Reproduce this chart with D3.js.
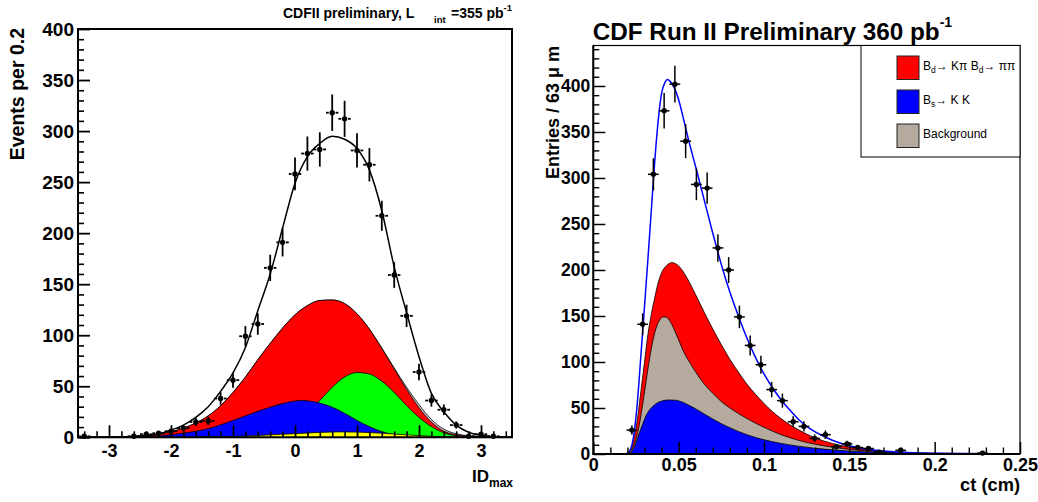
<!DOCTYPE html>
<html>
<head>
<meta charset="utf-8">
<script src="https://cdn.jsdelivr.net/npm/d3@7"></script>
<style>
  html, body { margin: 0; padding: 0; background: #fff; }
  svg { display: block; font-family: "Liberation Sans", Arial, Helvetica, sans-serif; }
</style>
</head>
<body>
<svg id="chart" width="1038" height="502"></svg>
<script>
// ---------- Left panel: ID_max distribution ----------
const idCenters = [-3.4, -2.6, -2.4, -2.2, -2.0, -1.8, -1.6, -1.4, -1.2, -1.0, -0.8, -0.6, -0.4, -0.2,
                   0.0, 0.2, 0.4, 0.6, 0.8, 1.0, 1.2, 1.4, 1.6, 1.8, 2.0, 2.2, 2.4, 2.6, 2.8, 3.0, 3.2];
const idCounts  = [1, 1, 3, 4, 6, 9, 15, 16, 38, 56, 99, 111, 166, 191,
                   258, 278, 282, 318, 312, 281, 267, 217, 159, 119, 64, 36, 27, 12, 1, 3, 1];

// fit components, [ID_max, events]
const idFitTotal = [[-3.5,0],[-3.0,0.1],[-2.6,0.8],[-2.4,1.5],[-2.2,3.5],[-2.0,7],[-1.8,12],[-1.6,19.5],[-1.4,30],
  [-1.2,45],[-1.0,63],[-0.8,88],[-0.6,124],[-0.4,160],[-0.2,205],[0.0,249],[0.2,275],[0.4,288],[0.6,295],
  [0.8,292],[1.0,283],[1.2,262],[1.4,222],[1.6,167],[1.8,122],[2.0,79],[2.2,43],[2.4,25],[2.6,12],[2.8,5],
  [3.0,2],[3.2,0.6],[3.5,0]];
const idOther = [[-3.5,0],[-2.8,0.5],[-2.4,2],[-2.0,5.5],[-1.8,9],[-1.6,14],[-1.4,21],[-1.2,31],[-1.0,44],
  [-0.8,59],[-0.6,76],[-0.4,92],[-0.2,107],[0.0,120],[0.2,129],[0.4,134],[0.6,134.5],[0.8,131],[1.0,121],
  [1.2,106],[1.4,87.5],[1.6,68],[1.8,49],[2.0,32],[2.2,17.5],[2.4,8],[2.6,3.5],[2.8,1.5],[3.2,0.3],[3.5,0]];
const idKpi = [[-3.5,0],[-2.8,0.5],[-2.4,2],[-2.0,5.5],[-1.8,9],[-1.6,14],[-1.4,21],[-1.2,31],[-1.0,44],
  [-0.8,59],[-0.6,76],[-0.4,92],[-0.2,107],[0.0,120],[0.2,129],[0.4,134],[0.6,134.5],[0.8,131],[1.0,121],
  [1.2,106],[1.4,87],[1.6,67],[1.8,47],[2.0,29],[2.2,15],[2.4,6],[2.6,2.5],[2.8,1],[3.2,0.2],[3.5,0]];
const idPiK = [[-1.4,0],[-1.0,0.5],[-0.6,2],[-0.4,4],[-0.2,8],[0.0,14],[0.2,24],[0.4,36],[0.6,49],[0.8,59],
  [1.0,63.5],[1.2,62],[1.4,55],[1.6,44],[1.8,31],[2.0,19.5],[2.2,10.5],[2.4,4.5],[2.6,1.5],[2.8,0.5],[3.2,0]];
const idKK = [[-2.6,0],[-2.2,1.5],[-1.8,4],[-1.4,8.5],[-1.0,16.5],[-0.6,25.5],[-0.4,29.5],[-0.2,33],[0.0,35.5],
  [0.1,36],[0.2,35.7],[0.4,33.5],[0.6,29.5],[0.8,23.5],[1.0,16.5],[1.2,10.5],[1.4,5.5],[1.6,2.5],[1.8,0.8],
  [2.0,0.2],[2.4,0]];
const idBkg = [[-1.6,0],[-1.2,0.5],[-0.8,1.2],[-0.4,2.4],[0.0,3.6],[0.4,4.8],[0.7,5.3],[1.0,5.1],[1.4,4.0],
  [1.8,2.4],[2.2,1.0],[2.6,0.3],[3.0,0]];

const idMajorX = [-3, -2, -1, 0, 1, 2, 3];
const idMajorY = [0, 50, 100, 150, 200, 250, 300, 350, 400];

// ---------- Right panel: proper decay length ----------
const ctCenters = [0.0226, 0.0289, 0.0352, 0.0415, 0.0478, 0.0541, 0.0604, 0.0667, 0.0730, 0.0793, 0.0856,
                   0.0919, 0.0982, 0.1045, 0.1108, 0.1171, 0.1234, 0.1297, 0.1360, 0.1423, 0.1486, 0.1549,
                   0.1612, 0.1675, 0.1801, 0.2280];
const ctEntries = [26, 141, 304, 373, 402, 340, 293, 289, 224, 200, 149,
                   118, 97, 70, 58, 35, 30, 17, 21, 8, 11, 7,
                   6, 2, 4, 1];

const ctFit = [[0,0],[0.018,0],[0.020,1],[0.022,6],[0.024,24],[0.026,60],[0.028,110],[0.030,160],[0.032,212],
  [0.034,265],[0.036,318],[0.038,362],[0.040,392],[0.042,404],[0.0435,407],[0.045,405],[0.0475,398],[0.050,385],
  [0.053,363],[0.056,340],[0.060,312],[0.065,276],[0.070,240],[0.075,206],[0.080,176],[0.085,150],[0.090,126],
  [0.095,105],[0.100,87],[0.105,72],[0.110,59],[0.115,48],[0.120,38],[0.125,30],[0.130,24],[0.140,15],
  [0.150,9],[0.160,5.5],[0.170,3.3],[0.180,2],[0.200,0.8],[0.250,0.1]];
const ctBd = [[0,0],[0.019,0],[0.0205,1],[0.022,5],[0.024,18],[0.026,40],[0.028,70],[0.030,100],[0.032,130],
  [0.034,152],[0.036,170],[0.038,186],[0.040,197],[0.043,205],[0.046,208],[0.049,206],[0.052,200],[0.055,191],
  [0.060,173],[0.065,154],[0.070,136],[0.075,119],[0.080,103],[0.085,89],[0.090,76],[0.095,65],[0.100,55],
  [0.105,46],[0.110,38.5],[0.115,32],[0.120,26.5],[0.130,17.5],[0.140,11.5],[0.150,7.5],[0.160,4.8],
  [0.170,3],[0.180,2],[0.200,0.8],[0.250,0.1]];
const ctBkg = [[0,0],[0.019,0],[0.021,1],[0.023,6],[0.025,16],[0.027,32],[0.029,55],[0.031,80],[0.033,104],
  [0.035,124],[0.037,138],[0.039,146],[0.041,149],[0.043,148.5],[0.045,144],[0.047,137],[0.050,124],
  [0.053,111],[0.056,101],[0.060,89],[0.065,76],[0.070,66],[0.075,57],[0.080,50],[0.085,44],[0.090,38.5],
  [0.095,33.5],[0.100,29],[0.110,21],[0.120,15],[0.130,10.5],[0.140,7.5],[0.150,5],[0.160,3.3],[0.170,2.1],
  [0.180,1.4],[0.200,0.6],[0.250,0.05]];
const ctBs = [[0,0],[0.020,0],[0.0215,0.5],[0.023,4],[0.025,12],[0.027,23],[0.029,33],[0.031,42],[0.033,48],
  [0.035,52],[0.037,55],[0.040,57.5],[0.044,58.7],[0.048,58.5],[0.052,56.5],[0.056,53],[0.060,49],[0.065,43.5],
  [0.070,38],[0.075,33],[0.080,28.5],[0.085,24.5],[0.090,21],[0.095,18],[0.100,15.5],[0.110,11.5],
  [0.120,8.5],[0.130,6.2],[0.140,4.5],[0.150,3.2],[0.160,2.3],[0.170,1.6],[0.180,1.1],[0.200,0.5],[0.250,0.05]];

const ctMajorX = [0, 0.05, 0.1, 0.15, 0.2, 0.25];
const ctMajorY = [0, 50, 100, 150, 200, 250, 300, 350, 400];

const legendLabels = ["Bd→Kπ Bd→ππ", "Bs→KK", "Background"];
const legendColors = ["#ff0000", "#0000ff", "#b5aa9d"];

// ---------- drawing ----------
const svg = d3.select("#chart");
const defs = svg.append("defs");

function frameClip(id, x, y) {
  const [x0, x1] = x.range(), [y0, y1] = y.range();
  defs.append("clipPath").attr("id", id).append("rect")
    .attr("x", x0).attr("y", y1).attr("width", x1 - x0).attr("height", y0 - y1);
}

function fillCurve(g, x, y, data, color) {
  const area = d3.area().x(d => x(d[0])).y0(y(0)).y1(d => y(d[1])).curve(d3.curveMonotoneX);
  g.append("path").attr("d", area(data)).attr("fill", color)
    .attr("stroke", "#000").attr("stroke-width", 0.8);
}

function points(g, x, y, centers, counts, halfWidth, lw, gap) {
  centers.forEach((c, i) => {
    const n = counts[i], e = Math.sqrt(n);
    const cx = x(c), cy = y(n);
    const pg = g.append("g").attr("stroke", "#000").attr("stroke-width", lw);
    pg.append("line").attr("x1", cx).attr("x2", cx).attr("y1", y(n + e)).attr("y2", y(Math.max(0, n - e)));
    if (gap > 0) {
      pg.append("line").attr("x1", x(c - halfWidth)).attr("x2", cx - gap).attr("y1", cy).attr("y2", cy);
      pg.append("line").attr("x1", cx + gap).attr("x2", x(c + halfWidth)).attr("y1", cy).attr("y2", cy);
    } else {
      pg.append("line").attr("x1", x(c - halfWidth)).attr("x2", x(c + halfWidth)).attr("y1", cy).attr("y2", cy);
    }
    g.append("circle").attr("cx", cx).attr("cy", cy).attr("r", 2.7).attr("fill", "#000");
  });
}

function styleAxis(sel, size, lw) {
  sel.select(".domain").remove();
  sel.selectAll("line").attr("stroke", "#000").attr("stroke-width", lw);
  sel.selectAll("text").attr("fill", "#000").attr("font-size", size).attr("font-weight", "bold")
     .attr("font-family", "'Liberation Sans', Arial, sans-serif");
}

// ===== Left panel =====
const xL = d3.scaleLinear().domain([-3.5, 3.5]).range([78, 512]);
const yL = d3.scaleLinear().domain([0, 400]).range([437.3, 29]);
frameClip("clipL", xL, yL);
const gL = svg.append("g").attr("clip-path", "url(#clipL)");

fillCurve(gL, xL, yL, idOther, "#c8c8c8");
fillCurve(gL, xL, yL, idKpi, "#ff0000");
fillCurve(gL, xL, yL, idPiK, "#00ff00");
fillCurve(gL, xL, yL, idKK, "#0000ff");
fillCurve(gL, xL, yL, idBkg, "#ffff00");

gL.append("path")
  .attr("d", d3.line().x(d => xL(d[0])).y(d => yL(d[1])).curve(d3.curveMonotoneX)(idFitTotal))
  .attr("fill", "none").attr("stroke", "#000").attr("stroke-width", 1.5);

points(svg.append("g"), xL, yL, idCenters, idCounts, 0.1, 1.8, 3.4);

// axes with inward ticks
svg.append("g").attr("transform", `translate(0,${yL(0)})`)
  .call(d3.axisBottom(xL).tickValues(d3.range(-3.4, 3.45, 0.2).filter(v => Math.abs(v - Math.round(v)) > 0.01))
        .tickSize(-6).tickFormat(""))
  .call(s => styleAxis(s, 18, 1.6));
svg.append("g").attr("transform", `translate(0,${yL(0)})`)
  .call(d3.axisBottom(xL).tickValues(idMajorX).tickSize(-12).tickPadding(6.5).tickFormat(d => String(d)))
  .call(s => styleAxis(s, 18, 1.8));
svg.append("g").attr("transform", `translate(${xL(-3.5)},0)`)
  .call(d3.axisLeft(yL).tickValues(d3.range(10, 400, 10).filter(v => v % 50 !== 0)).tickSize(-6).tickFormat(""))
  .call(s => styleAxis(s, 19, 1.6));
svg.append("g").attr("transform", `translate(${xL(-3.5)},0)`)
  .call(d3.axisLeft(yL).tickValues(idMajorY).tickSize(-12).tickPadding(4).tickFormat(d => String(d)))
  .call(s => styleAxis(s, 19, 1.8));

svg.append("rect").attr("x", 78).attr("y", 29).attr("width", 434).attr("height", 408.3)
  .attr("fill", "none").attr("stroke", "#000").attr("stroke-width", 2);

// titles and axis labels
const tL = svg.append("text").attr("x", 283).attr("y", 18.3).attr("font-size", 14).attr("font-weight", "bold");
tL.append("tspan").text("CDFII preliminary, L");
tL.append("tspan").attr("x", 434).attr("dy", 4.5).attr("font-size", 9.5).text("int");
tL.append("tspan").attr("x", 451).attr("dy", -4.5).text("=355 pb");
tL.append("tspan").attr("dy", -7.5).attr("font-size", 9.5).text("-1");

svg.append("text").attr("transform", "translate(24,28) rotate(-90)").attr("text-anchor", "end")
  .attr("font-size", 19.5).attr("font-weight", "bold").text("Events per 0.2");

const xLab = svg.append("text").attr("x", 513).attr("y", 482).attr("text-anchor", "end").attr("font-weight", "bold");
xLab.append("tspan").attr("font-size", 17).text("ID");
xLab.append("tspan").attr("font-size", 12).attr("dy", 5).text("max");

// ===== Right panel =====
const xR = d3.scaleLinear().domain([0, 0.25]).range([593.3, 1020]);
const yR = d3.scaleLinear().domain([0, 444]).range([454, 45.5]);
frameClip("clipR", xR, yR);
const gR = svg.append("g").attr("clip-path", "url(#clipR)");

fillCurve(gR, xR, yR, ctBd, "#ff0000");
fillCurve(gR, xR, yR, ctBkg, "#b5aa9d");
fillCurve(gR, xR, yR, ctBs, "#0000ff");

gR.append("path")
  .attr("d", d3.line().x(d => xR(d[0])).y(d => yR(d[1])).curve(d3.curveMonotoneX)(ctFit))
  .attr("fill", "none").attr("stroke", "#0000ff").attr("stroke-width", 1.5);

points(svg.append("g"), xR, yR, ctCenters, ctEntries, 0.00315, 1.5, 0);

svg.append("g").attr("transform", `translate(0,${yR(0)})`)
  .call(d3.axisBottom(xR).tickValues(d3.range(0.01, 0.25, 0.01).filter((v, i) => (i + 1) % 5 !== 0))
        .tickSize(-6.5).tickFormat(""))
  .call(s => styleAxis(s, 18, 1.4));
svg.append("g").attr("transform", `translate(0,${yR(0)})`)
  .call(d3.axisBottom(xR).tickValues(ctMajorX).tickSize(-12).tickPadding(4.5).tickFormat(d => String(d)))
  .call(s => styleAxis(s, 18, 1.5));
svg.append("g").attr("transform", `translate(${xR(0)},0)`)
  .call(d3.axisLeft(yR).tickValues(d3.range(10, 444, 10).filter(v => v % 50 !== 0)).tickSize(-6).tickFormat(""))
  .call(s => styleAxis(s, 17.5, 1.4));
svg.append("g").attr("transform", `translate(${xR(0)},0)`)
  .call(d3.axisLeft(yR).tickValues(ctMajorY).tickSize(-12).tickPadding(3).tickFormat(d => String(d)))
  .call(s => styleAxis(s, 17.5, 1.5));

svg.append("rect").attr("x", 593.3).attr("y", 45.5).attr("width", 426.7).attr("height", 408.5)
  .attr("fill", "none").attr("stroke", "#000").attr("stroke-width", 1.2);
svg.append("line").attr("x1", 593.3).attr("x2", 593.3).attr("y1", 45.5).attr("y2", 454.5)
  .attr("stroke", "#000").attr("stroke-width", 2);
svg.append("line").attr("x1", 592.3).attr("x2", 1020).attr("y1", 454).attr("y2", 454)
  .attr("stroke", "#000").attr("stroke-width", 2);

// title
const tR = svg.append("text").attr("x", 592.7).attr("y", 40).attr("font-size", 24.3).attr("font-weight", "bold");
tR.append("tspan").text("CDF Run II Preliminary 360 pb");
tR.append("tspan").attr("dy", -13).attr("font-size", 14).text("-1");

svg.append("text").attr("transform", "translate(558.5,46) rotate(-90)").attr("text-anchor", "end")
  .attr("font-size", 18).attr("font-weight", "bold").text("Entries / 63 μ m");

svg.append("text").attr("x", 1020).attr("y", 491).attr("text-anchor", "end")
  .attr("font-size", 18.3).attr("font-weight", "bold").text("ct (cm)");

// legend
const lg = svg.append("g");
lg.append("rect").attr("x", 861).attr("y", 45.5).attr("width", 159).attr("height", 111.5)
  .attr("fill", "#fff").attr("stroke", "#000").attr("stroke-width", 1);
const rowY = [56, 90, 124];
legendColors.forEach((c, i) => {
  lg.append("rect").attr("x", 897).attr("y", rowY[i]).attr("width", 22).attr("height", 23.5)
    .attr("fill", c).attr("stroke", "#222").attr("stroke-width", 1);
});
function legendText(i, parts) {
  const t = lg.append("text").attr("x", 923).attr("y", rowY[i] + 13.8).attr("font-size", 12);
  parts.forEach(p => {
    const s = t.append("tspan").text(p.s);
    if (p.sub) s.attr("font-size", 8.5).attr("dy", 3);
    if (p.up) s.attr("dy", -3);
  });
}
legendText(0, [{s: "B"}, {s: "d", sub: true}, {s: "→ Kπ B", up: true}, {s: "d", sub: true}, {s: "→ ππ", up: true}]);
legendText(1, [{s: "B"}, {s: "s", sub: true}, {s: "→ K K", up: true}]);
legendText(2, [{s: legendLabels[2]}]);
</script>
</body>
</html>
